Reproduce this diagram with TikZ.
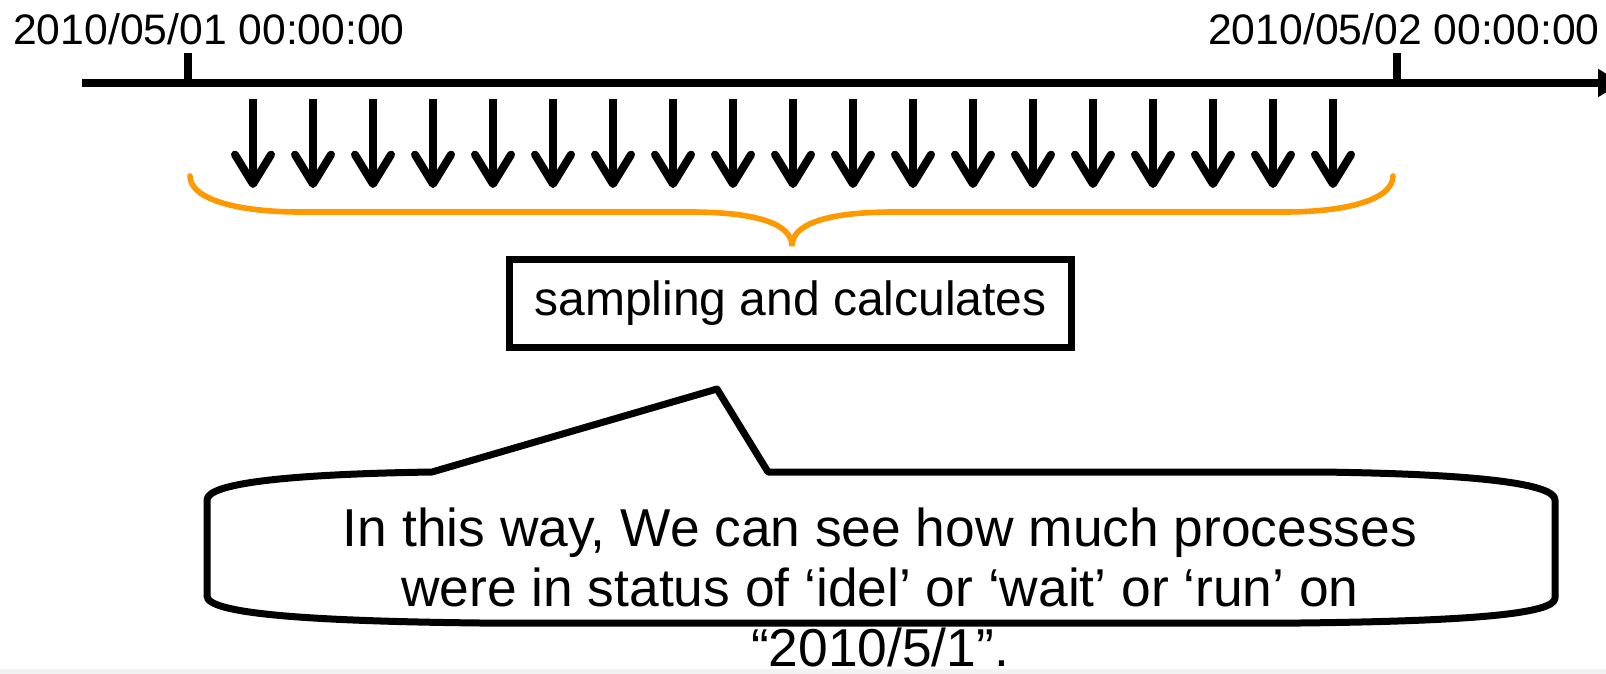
\documentclass[tikz,border=0pt]{standalone}
\usepackage{fontspec}
\setmainfont{Liberation Sans}
\usetikzlibrary{arrows.meta}
\definecolor{braceorange}{RGB}{255,153,0}
\definecolor{stripgray}{RGB}{242,242,242}
\begin{document}
\begin{tikzpicture}[x=0.75pt,y=-0.75pt,
  axisline/.style={line width=6pt,-{Triangle[length=18pt,width=20pt]}},
  tickline/.style={line width=6pt},
  sample/.style={line width=6pt,-{Straight Barb[length=22pt,width=27pt,round]}},
  datelbl/.style={font=\fontsize{32pt}{38pt}\selectfont,inner sep=0pt,anchor=base},
  bracestyle/.style={draw=braceorange,line width=4.2pt,line cap=round},
  calcbox/.style={draw,line width=5.25pt,minimum width=422pt,minimum height=66pt,inner sep=0pt,font=\fontsize{36pt}{42pt}\selectfont},
  calloutline/.style={draw,line width=5.25pt,line join=round},
  callouttext/.style={font=\fontsize{40pt}{45pt}\selectfont,align=center,inner sep=0pt,anchor=base}
]
\useasboundingbox (0,0) rectangle (1606,674);
\clip (0,0) rectangle (1606,674);
\fill[stripgray] (0,669) rectangle (1606,674);

% axis
\coordinate (axL) at (82,83);
\coordinate (axR) at (1622,83);
\draw[axisline] (axL) -- (axR);
\coordinate (t1b) at (188,86);
\coordinate (t1t) at (188,53);
\coordinate (t2b) at (1397,86);
\coordinate (t2t) at (1397,53);
\draw[tickline] (t1b) -- (t1t);
\draw[tickline] (t2b) -- (t2t);
\node[datelbl] (d1) at (209,45) {2010/05/01 00:00:00};
\node[datelbl] (d2) at (1404,45) {2010/05/02 00:00:00};

% sampling arrows
\foreach \i in {0,...,18}{
  \coordinate (s\i a) at ({253+60*\i},99);
  \coordinate (s\i b) at ({253+60*\i},188);
  \draw[sample] (s\i a) -- (s\i b);
}

% brace
\draw[bracestyle] (190,176) .. controls (190,200) and (240,212) .. (300,212)
  -- (690,212) .. controls (760,212) and (792,225) .. (792,246)
  .. controls (792,225) and (824,212) .. (894,212)
  -- (1285,212) .. controls (1345,212) and (1393,200) .. (1393,176);

% box
\node[calcbox] (calc) at (790.5,303.5) {sampling and calculates};

% callout
\draw[calloutline] (207,500) -- (207,596)
  .. controls (207,613) and (300,621) .. (480,623) -- (1300,623)
  .. controls (1480,621) and (1555,613) .. (1555,598) -- (1555,500)
  .. controls (1555,484) and (1480,474) .. (1320,472) -- (768,472)
  -- (717,389) -- (432,472)
  .. controls (300,474) and (207,482) .. (207,500) -- cycle;
\node[callouttext] (note) at (880,666) {In this way, We can see how much processes\\were in status of ‘idel’ or ‘wait’ or ‘run’ on\\“2010/5/1”.};
\end{tikzpicture}
\end{document}
